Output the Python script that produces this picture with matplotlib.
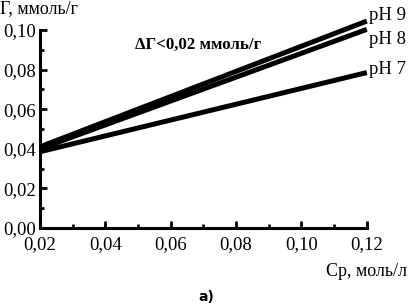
import matplotlib
matplotlib.use("Agg")
import matplotlib.pyplot as plt
from matplotlib.ticker import MultipleLocator, FuncFormatter

plt.rcParams['font.family'] = ['Liberation Serif', 'DejaVu Serif']

x_range = [0.02, 0.12]
series_names = ["pH 9", "pH 8", "pH 7"]
y_start = [0.041, 0.040, 0.0385]
y_end = [0.1045, 0.1003, 0.0785]
label_y = [0.1072, 0.0950, 0.0800]

fig = plt.figure(figsize=(4.09, 3.06), dpi=100)
ax = fig.add_axes([0.0978, 0.255, 0.799, 0.647])

for name, y0, y1, ly in zip(series_names, y_start, y_end, label_y):
    ax.plot(x_range, [y0, y1], color='black', lw=3.6, solid_capstyle='butt', clip_on=False)
    ax.text(x_range[1] + 0.0006, ly, name, fontsize=13.5, va='center', ha='left')

ax.set_xlim(0.02, 0.12)
ax.set_ylim(0.0, 0.10)
ax.xaxis.set_major_locator(MultipleLocator(0.02))
ax.xaxis.set_minor_locator(MultipleLocator(0.01))
ax.yaxis.set_major_locator(MultipleLocator(0.02))
ax.yaxis.set_minor_locator(MultipleLocator(0.01))
fmt = FuncFormatter(lambda v, p: f"{v:.2f}".replace('.', ','))
ax.xaxis.set_major_formatter(fmt)
ax.yaxis.set_major_formatter(fmt)
for s in ['top', 'right']:
    ax.spines[s].set_visible(False)
for s in ['left', 'bottom']:
    ax.spines[s].set_linewidth(2.2)
ax.tick_params(which='major', direction='in', length=5, width=2, labelsize=13.5)
ax.tick_params(axis='x', which='major', pad=6)
ax.tick_params(axis='y', which='major', pad=3)
ax.tick_params(which='minor', direction='in', length=3, width=2)

fig.text(0.0, 0.972, "Г, ммоль/г", fontsize=13, ha='left', va='center')
fig.text(0.995, 0.112, "Ср, моль/л", fontsize=13, ha='right', va='center')
fig.text(0.484, 0.029, "а)", fontsize=10, ha='left', va='center', weight='bold', family='DejaVu Sans')
fig.text(0.33, 0.853, "ΔГ<0,02 ммоль/г", fontsize=12.2, ha='left', va='center', weight='bold')

fig.savefig("out.png", dpi=100)
